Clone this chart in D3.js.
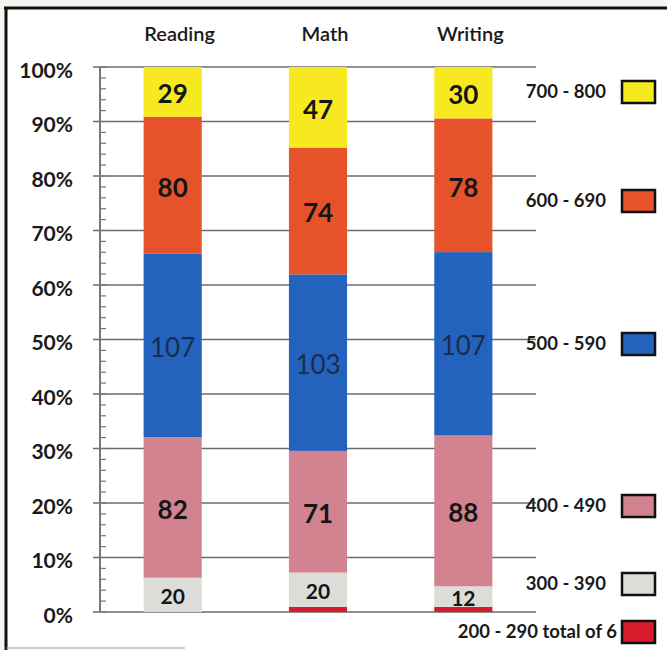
<!DOCTYPE html>
<html lang="en">
<head>
  <meta charset="UTF-8">
  <title>Score bands by subject</title>
  <script src="https://d3js.org/d3.v7.min.js"></script>
  <style>
    body { margin: 0; background: #f7f4f0; }
    svg { display: block; font-family: Lato, "Open Sans", sans-serif; }
  </style>
</head>
<body>
  <svg id="chart"></svg>
  <script>
    // data (counts per score band)
    const categories = ["Reading", "Math", "Writing"];
    const bands = ["200 - 290", "300 - 390", "400 - 490", "500 - 590", "600 - 690", "700 - 800"];
    const s200 = [0, 3, 3];
    const s300 = [20, 20, 12];
    const s400 = [82, 71, 88];
    const s500 = [107, 103, 107];
    const s600 = [80, 74, 78];
    const s700 = [29, 47, 30];
    const legendText = ["200 - 290 total of 6", "300 - 390", "400 - 490", "500 - 590", "600 - 690", "700 - 800"];
    const yTicks = [0, 0.1, 0.2, 0.3, 0.4, 0.5, 0.6, 0.7, 0.8, 0.9, 1];

    const colors = ["#d71c2b", "#dcdcd9", "#d3828f", "#2363be", "#e6532b", "#f6e920"];
    const legendY = [632, 584, 506, 344, 201, 92];

    const W = 667, H = 650;
    const svg = d3.select("#chart").attr("width", W).attr("height", H);

    // white sheet + scanned frame
    svg.append("rect").attr("x", 6).attr("y", 8).attr("width", W - 6).attr("height", H - 8).attr("fill", "#fff");
    svg.append("line").attr("x1", 4).attr("x2", W).attr("y1", 8).attr("y2", 8)
      .attr("stroke", "#111").attr("stroke-width", 3);
    svg.append("line").attr("x1", 6).attr("x2", 6).attr("y1", 7).attr("y2", H)
      .attr("stroke", "#111").attr("stroke-width", 3);
    svg.append("line").attr("x1", 6).attr("x2", 185).attr("y1", 648).attr("y2", 648)
      .attr("stroke", "#999").attr("stroke-width", 1);

    const table = categories.map((c, i) => {
      const row = { cat: c };
      [s200, s300, s400, s500, s600, s700].forEach((s, k) => row[bands[k]] = s[i]);
      return row;
    });

    const stack = d3.stack().keys(bands).offset(d3.stackOffsetExpand);
    const series = stack(table);

    const x = d3.scaleBand().domain(categories).range([100, 536]).paddingInner(0.6).paddingOuter(0.3);
    const y = d3.scaleLinear().domain([0, 1]).range([612, 67]);

    // gridlines
    svg.append("g").selectAll("line").data(yTicks).join("line")
      .attr("x1", 93).attr("x2", 536)
      .attr("y1", d => y(d)).attr("y2", d => y(d))
      .attr("stroke", "#6b6b6b").attr("stroke-width", 1.5);

    // y axis with minor ticks
    svg.append("line").attr("x1", 100).attr("x2", 100).attr("y1", y(1)).attr("y2", y(0))
      .attr("stroke", "#777").attr("stroke-width", 2);
    svg.append("g").selectAll("line").data(d3.range(0, 1.001, 0.02)).join("line")
      .attr("x1", 100).attr("x2", 106)
      .attr("y1", d => y(d)).attr("y2", d => y(d))
      .attr("stroke", "#777").attr("stroke-width", 1.2);

    svg.append("g").selectAll("text").data(yTicks).join("text")
      .attr("x", 73).attr("y", d => y(d) + 3)
      .attr("dy", "0.36em")
      .attr("text-anchor", "end")
      .attr("font-size", 21).attr("font-weight", 700).attr("fill", "#1a1a1a")
      .text(d3.format(".0%"));

    // bars
    const groups = svg.append("g").selectAll("g").data(series).join("g")
      .attr("fill", (d, i) => colors[i]);
    groups.selectAll("rect").data(d => d).join("rect")
      .attr("x", d => x(d.data.cat))
      .attr("width", x.bandwidth())
      .attr("y", d => y(d[1]))
      .attr("height", d => y(d[0]) - y(d[1]));

    // value labels (no label on the 200-290 slivers)
    series.forEach((s, k) => {
      if (k === 0) return;
      svg.append("g").selectAll("text").data(s).join("text")
        .attr("x", d => x(d.data.cat) + x.bandwidth() / 2)
        .attr("y", d => y((d[0] + d[1]) / 2) + 2)
        .attr("dy", "0.36em")
        .attr("text-anchor", "middle")
        .attr("font-size", k === 1 ? 21 : 26)
        .attr("font-weight", k === 3 ? 400 : 700)
        .attr("fill", k === 3 ? "#1c2b4d" : "#151515")
        .text(d => d.data[s.key]);
    });

    // category labels
    svg.append("g").selectAll("text").data(categories).join("text")
      .attr("x", d => x(d) + x.bandwidth() / 2 + 7)
      .attr("y", 41)
      .attr("text-anchor", "middle")
      .attr("font-size", 20).attr("font-weight", 600).attr("fill", "#1a1a1a")
      .text(d => d);

    // legend
    const leg = svg.append("g").selectAll("g").data(bands).join("g")
      .attr("transform", (d, i) => `translate(0,${legendY[i]})`);
    leg.append("rect")
      .attr("x", 622).attr("y", -11).attr("width", 33).attr("height", 22)
      .attr("fill", (d, i) => colors[i])
      .attr("stroke", "#111").attr("stroke-width", 2.5);
    leg.append("text")
      .attr("x", (d, i) => i === 0 ? 617 : 606)
      .attr("y", -1)
      .attr("dy", "0.36em")
      .attr("text-anchor", "end")
      .attr("font-size", 18.5).attr("font-weight", 700).attr("fill", "#1a1a1a")
      .text((d, i) => legendText[i]);
  </script>
</body>
</html>
